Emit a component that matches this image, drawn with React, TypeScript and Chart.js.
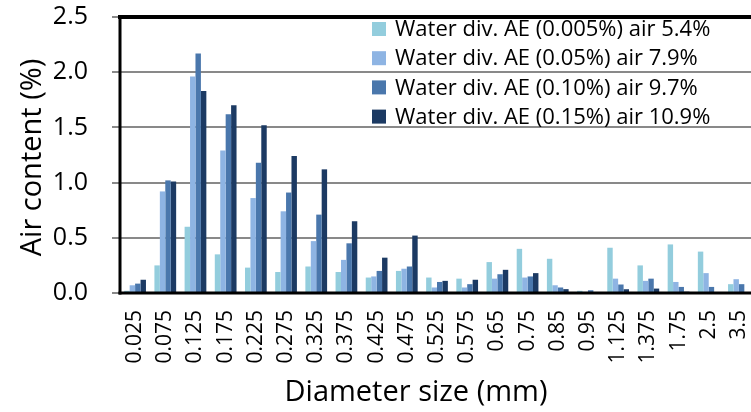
import React, { useEffect, useRef } from 'react';
import { Chart, registerables } from 'chart.js';

Chart.register(...registerables);

const categories = ['0.025', '0.075', '0.125', '0.175', '0.225', '0.275', '0.325', '0.375', '0.425', '0.475', '0.525', '0.575', '0.65', '0.75', '0.85', '0.95', '1.125', '1.375', '1.75', '2.5', '3.5'];

const seriesLabels = [
  'Water div. AE (0.005%) air 5.4%',
  'Water div. AE (0.05%) air 7.9%',
  'Water div. AE (0.10%) air 9.7%',
  'Water div. AE (0.15%) air 10.9%',
];

const ae0005 = [0.02, 0.25, 0.60, 0.35, 0.23, 0.19, 0.24, 0.19, 0.14, 0.20, 0.14, 0.13, 0.28, 0.40, 0.31, 0.02, 0.41, 0.25, 0.44, 0.375, 0.08];
const ae005 = [0.07, 0.92, 1.96, 1.29, 0.86, 0.74, 0.47, 0.30, 0.15, 0.22, 0.05, 0.05, 0.13, 0.14, 0.07, 0.01, 0.13, 0.11, 0.10, 0.18, 0.125];
const ae010 = [0.085, 1.02, 2.17, 1.62, 1.18, 0.91, 0.71, 0.45, 0.20, 0.24, 0.10, 0.08, 0.17, 0.15, 0.05, 0.025, 0.077, 0.13, 0.055, 0.055, 0.08];
const ae015 = [0.12, 1.01, 1.83, 1.70, 1.52, 1.24, 1.12, 0.65, 0.32, 0.52, 0.11, 0.12, 0.21, 0.18, 0.035, 0.005, 0.034, 0.04, 0.012, 0.0, 0.0];

const seriesColors = ['#93CDDD', '#8EB4E3', '#4A77AC', '#1C3A63'];

const yTicks = [0, 0.5, 1.0, 1.5, 2.0, 2.5];

const xTitle = 'Diameter size (mm)';
const yTitle = 'Air content (%)';

const FONT = '"Open Sans", "Liberation Sans", sans-serif';

const framePlugin = {
  id: 'frameAndLegend',
  afterDatasetsDraw(chart: any) {
    const { ctx, chartArea } = chart;
    const { left, top, right, bottom } = chartArea;
    ctx.save();
    ctx.strokeStyle = '#000';
    ctx.lineCap = 'butt';
    // top border
    ctx.lineWidth = 4;
    ctx.beginPath();
    ctx.moveTo(left - 2, top);
    ctx.lineTo(right, top);
    ctx.stroke();
    // left axis
    ctx.lineWidth = 3;
    ctx.beginPath();
    ctx.moveTo(left, top - 2);
    ctx.lineTo(left, bottom + 1.5);
    ctx.stroke();
    // bottom axis
    ctx.beginPath();
    ctx.moveTo(left - 1.5, bottom);
    ctx.lineTo(right, bottom);
    ctx.stroke();

    // legend inside plot area
    ctx.font = `22px ${FONT}`;
    ctx.textBaseline = 'middle';
    ctx.textAlign = 'left';
    chart.data.datasets.forEach((ds: any, i: number) => {
      const cy = top + 12 + i * 29.2;
      ctx.fillStyle = ds.backgroundColor;
      ctx.fillRect(left + 252, cy - 7, 14, 14);
      ctx.fillStyle = '#000';
      ctx.fillText(ds.label, left + 275, cy + 1);
    });
    ctx.restore();
  },
  afterDraw(chart: any) {
    const { ctx } = chart;
    ctx.save();
    ctx.fillStyle = '#000';
    ctx.font = `29px ${FONT}`;
    ctx.textAlign = 'center';
    ctx.textBaseline = 'alphabetic';
    ctx.fillText(xTitle, 416, 401);
    ctx.translate(41, 157.5);
    ctx.rotate(-Math.PI / 2);
    ctx.fillText(yTitle, 0, 0);
    ctx.restore();
  },
};

export default function App() {
  const canvasRef = useRef<HTMLCanvasElement | null>(null);

  useEffect(() => {
    const canvas = canvasRef.current;
    if (!canvas) return;
    const series = [ae0005, ae005, ae010, ae015];
    const chart = new Chart(canvas, {
      type: 'bar',
      data: {
        labels: categories,
        datasets: series.map((d, i) => ({
          label: seriesLabels[i],
          data: d,
          backgroundColor: seriesColors[i],
          borderWidth: 0,
          categoryPercentage: 0.72,
          barPercentage: 1.0,
        })),
      },
      options: {
        responsive: false,
        animation: false,
        devicePixelRatio: 1,
        layout: { autoPadding: false, padding: { top: 17, left: 0, right: 2, bottom: 0 } },
        plugins: {
          legend: { display: false },
          tooltip: { enabled: false },
          title: { display: false },
        },
        scales: {
          x: {
            type: 'category',
            grid: { display: false, drawTicks: false },
            border: { display: false },
            ticks: {
              autoSkip: false,
              maxRotation: 90,
              minRotation: 90,
              padding: 17,
              color: '#000',
              font: { family: FONT, size: 21 },
            },
            afterFit: (scale: any) => {
              scale.height = 119;
              scale.paddingLeft = 0;
              scale.paddingRight = 0;
            },
          },
          y: {
            min: 0,
            max: 2.5,
            grid: { color: '#898989', lineWidth: 2, tickLength: 8, drawTicks: true },
            border: { display: false },
            ticks: {
              padding: 24,
              color: '#000',
              font: { family: FONT, size: 25 },
              callback: (v: any) => Number(v).toFixed(1),
            },
            afterBuildTicks: (scale: any) => {
              scale.ticks = yTicks.map((v) => ({ value: v }));
            },
            afterFit: (scale: any) => {
              scale.width = 120;
              scale.paddingTop = 0;
              scale.paddingBottom = 0;
            },
          },
        },
      },
      plugins: [framePlugin],
    });
    return () => chart.destroy();
  }, []);

  return (
    <div style={{ position: 'fixed', left: 0, top: 0, width: 751, height: 412, overflow: 'hidden', background: '#fff' }}>
      <canvas ref={canvasRef} width={756} height={412} style={{ display: 'block' }} />
    </div>
  );
}
